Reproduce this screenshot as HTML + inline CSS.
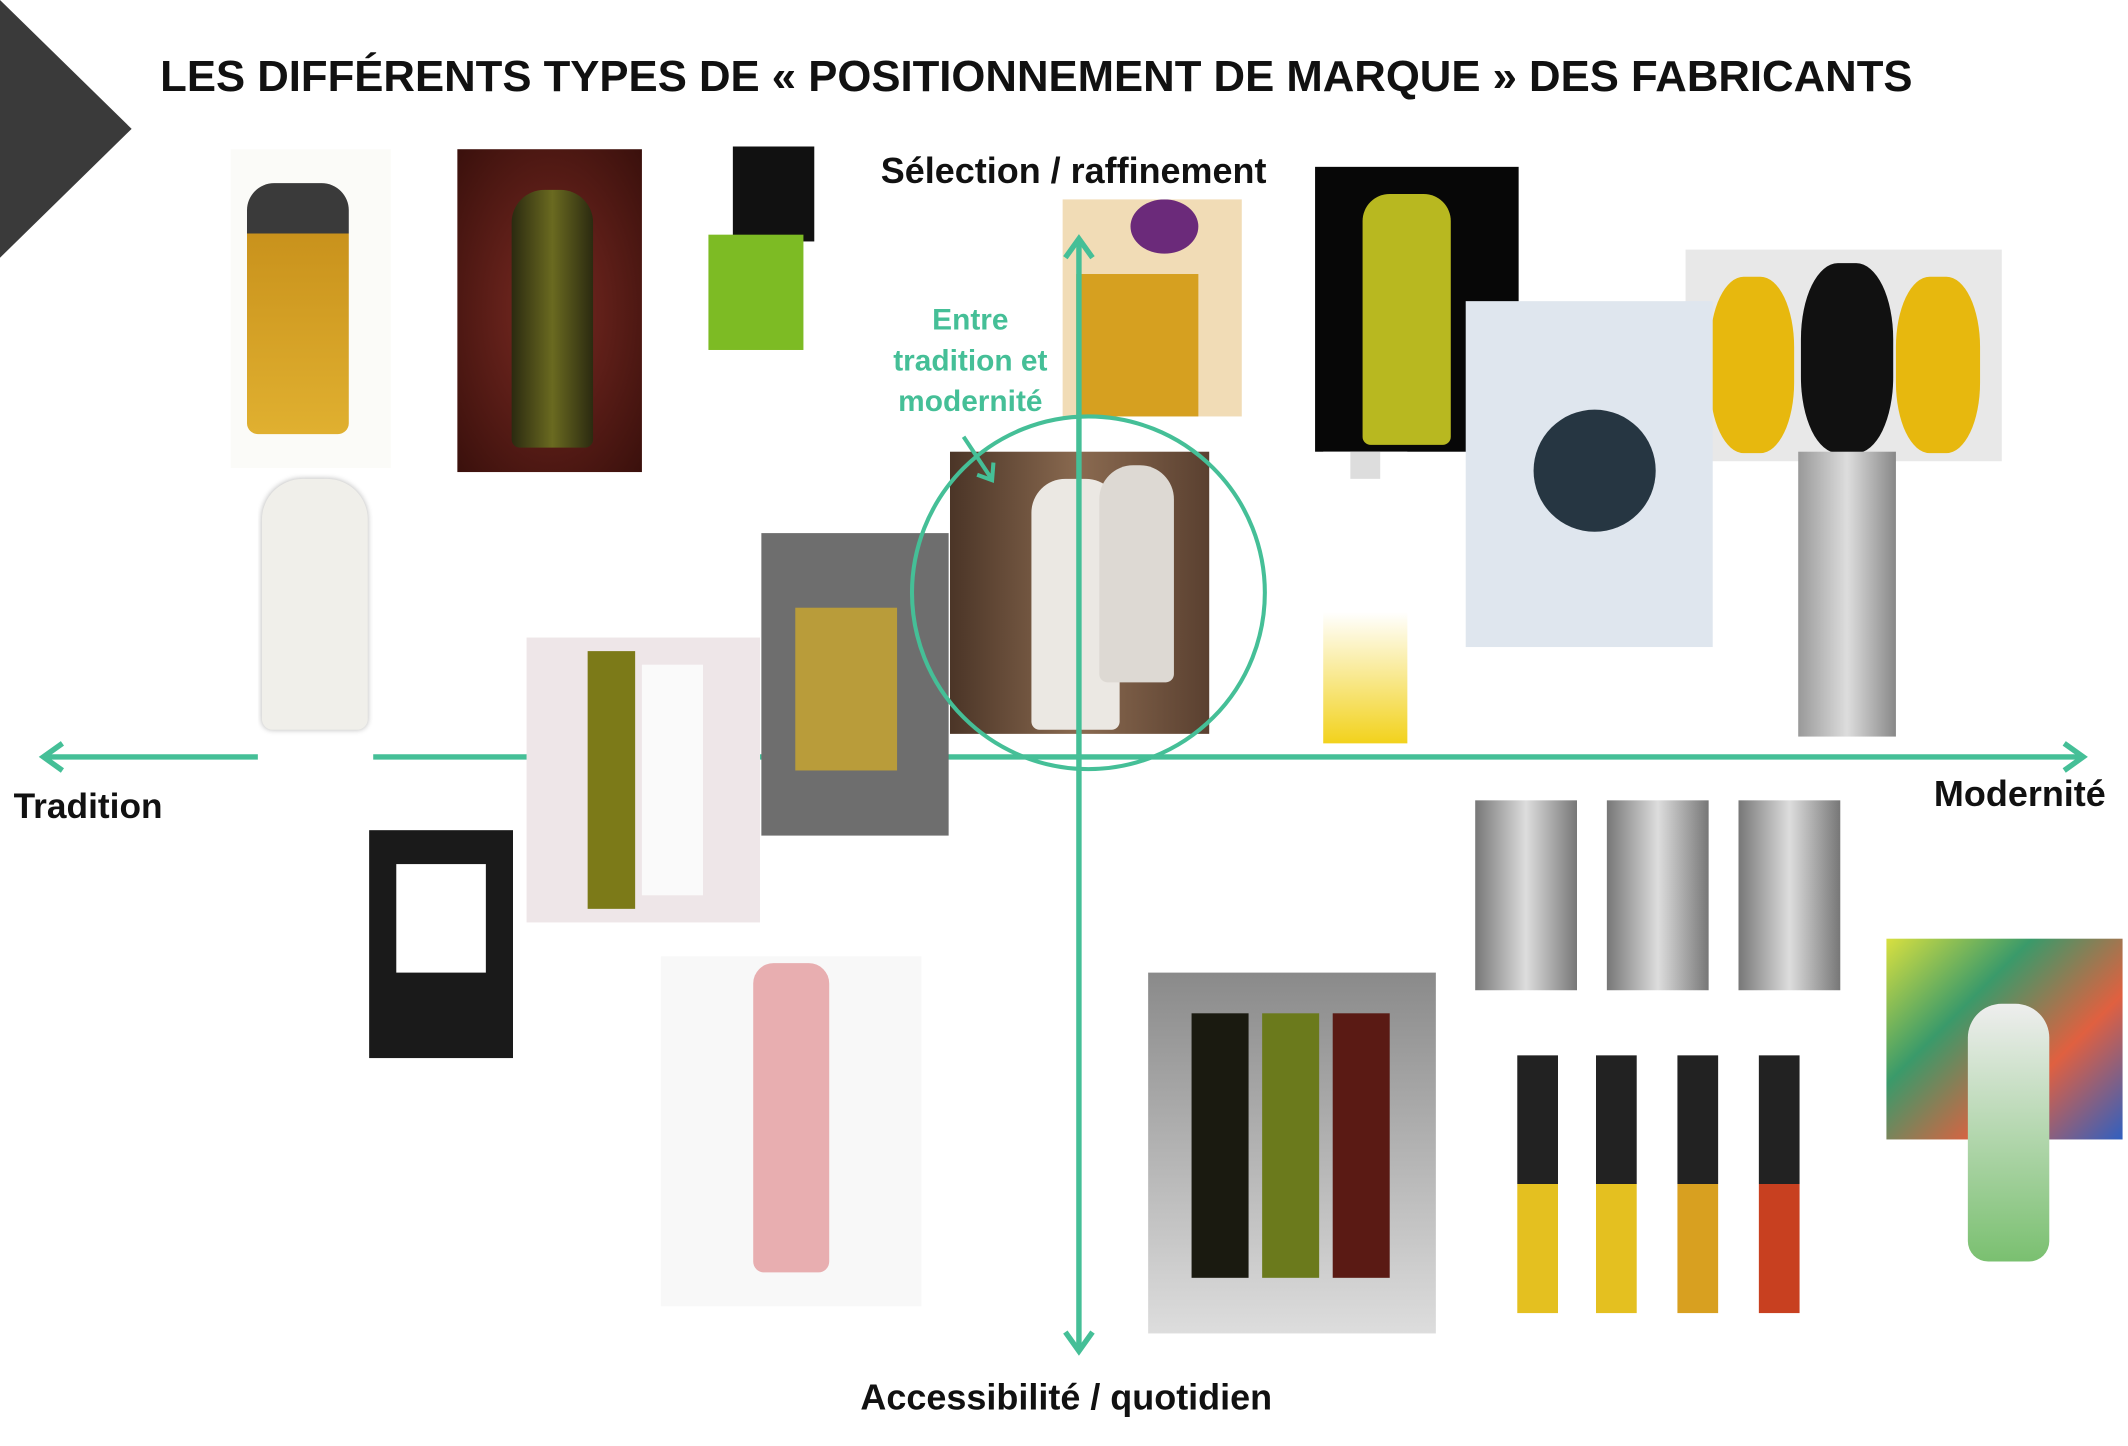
<!DOCTYPE html>
<html><head><meta charset="utf-8"><style>
html,body{margin:0;padding:0;background:#fff;overflow:hidden}
#w{position:absolute;left:0;top:0;width:1568px;height:1066px;transform:scale(1.35714,1.3565);transform-origin:0 0;font-family:"Liberation Sans",sans-serif}
.i{position:absolute;overflow:hidden}
.t{position:absolute;font-weight:bold;white-space:nowrap;color:#111}
.b{position:absolute}
</style></head><body><div id="w">
<svg class="b" style="left:0;top:0" width="1568" height="1066">
<polygon points="0,0 97,95 0,190" fill="#3a3a3a"/>
<line x1="32" y1="558" x2="1535" y2="558" stroke="#45bf97" stroke-width="4"/>
<polyline points="46,548 32,558 46,568" fill="none" stroke="#45bf97" stroke-width="4"/>
<polyline points="1521,548 1535,558 1521,568" fill="none" stroke="#45bf97" stroke-width="4"/>
</svg>
<div class="t" style="left:118px;top:38px;font-size:32.2px">LES DIFFÉRENTS TYPES DE « POSITIONNEMENT DE MARQUE » DES FABRICANTS</div>
<div class="t" style="left:649px;top:111px;font-size:26.5px">Sélection / raffinement</div>
<div class="t" style="left:10px;top:579px;font-size:26px">Tradition</div>
<div class="t" style="left:1425px;top:570px;font-size:26.5px">Modernité</div>
<div class="t" style="left:634px;top:1015px;font-size:26.5px">Accessibilité / quotidien</div>
<div class="t" style="left:630px;top:221px;width:170px;text-align:center;font-size:22px;line-height:30px;color:#45bf97">Entre<br>tradition et<br>modernité</div>

<!-- images -->
<div class="i" style="left:170px;top:110px;width:118px;height:235px;background:#fbfbf8"><div class="b" style="left:12px;top:25px;width:75px;height:185px;border-radius:20px 20px 8px 8px;background:linear-gradient(#3a3a3a 0 20%,#c9921c 20%,#e0b030)"></div></div>
<div class="i" style="left:337px;top:110px;width:136px;height:238px;background:radial-gradient(#7a2a22,#3a100c)"><div class="b" style="left:40px;top:30px;width:60px;height:190px;border-radius:24px 24px 6px 6px;background:linear-gradient(90deg,#2b2a10,#6a6a20,#2b2a10)"></div></div>
<div class="i" style="left:520px;top:108px;width:115px;height:152px;background:#fff"><div class="b" style="left:20px;top:0;width:60px;height:70px;background:#111"></div><div class="b" style="left:2px;top:65px;width:70px;height:85px;background:#7dbb24"></div></div>
<div class="i" style="left:783px;top:147px;width:132px;height:160px;background:#f1dcb6"><div class="b" style="left:50px;top:0;width:50px;height:40px;border-radius:50%;background:#6b2a7a"></div><div class="b" style="left:10px;top:55px;width:90px;height:105px;background:#d6a020"></div></div>
<div class="i" style="left:969px;top:123px;width:150px;height:210px;background:#070707"><div class="b" style="left:35px;top:20px;width:65px;height:185px;border-radius:20px 20px 6px 6px;background:#b8b820"></div></div>
<div class="i" style="left:1242px;top:184px;width:233px;height:156px;background:#e8e8e8"><div class="b" style="left:18px;top:20px;width:62px;height:130px;border-radius:40%;background:#e7b80e"></div><div class="b" style="left:85px;top:10px;width:68px;height:140px;border-radius:40%;background:#111"></div><div class="b" style="left:155px;top:20px;width:62px;height:130px;border-radius:40%;background:#e7b80e"></div></div>
<div class="i" style="left:1080px;top:222px;width:182px;height:255px;background:#dfe6ee"><div class="b" style="left:50px;top:80px;width:90px;height:90px;border-radius:50%;background:#263642"></div></div>
<div class="i" style="left:190px;top:345px;width:85px;height:220px;background:#fff"><div class="b" style="left:3px;top:8px;width:78px;height:185px;border-radius:30px 30px 8px 8px;background:#f0efea;box-shadow:0 0 4px #bbb"></div></div>
<div class="i" style="left:388px;top:470px;width:172px;height:210px;background:#eee6e8"><div class="b" style="left:45px;top:10px;width:35px;height:190px;background:#7c7a18"></div><div class="b" style="left:85px;top:20px;width:45px;height:170px;background:#fafafa"></div></div>
<div class="i" style="left:561px;top:393px;width:138px;height:223px;background:#6e6e6e"><div class="b" style="left:25px;top:55px;width:75px;height:120px;background:#b99c3a"></div></div>
<div class="i" style="left:700px;top:333px;width:191px;height:208px;background:linear-gradient(90deg,#4b3527,#8a6a50,#5a4030)"><div class="b" style="left:60px;top:20px;width:65px;height:185px;border-radius:25px 25px 6px 6px;background:#ebe8e3"></div><div class="b" style="left:110px;top:10px;width:55px;height:160px;border-radius:25px 25px 6px 6px;background:#ddd9d3"></div></div>
<div class="i" style="left:975px;top:333px;width:62px;height:215px;background:linear-gradient(#fff 55%,#f2d21c)"><div class="b" style="left:20px;top:0;width:22px;height:20px;background:#ddd"></div></div>
<div class="i" style="left:1325px;top:333px;width:72px;height:210px;background:linear-gradient(90deg,#999,#ddd,#888)"></div>
<div class="i" style="left:272px;top:612px;width:106px;height:168px;background:#1a1a1a"><div class="b" style="left:20px;top:25px;width:66px;height:80px;background:#fff"></div></div>
<div class="i" style="left:487px;top:705px;width:192px;height:258px;background:#f8f8f8"><div class="b" style="left:68px;top:5px;width:56px;height:228px;border-radius:15px 15px 8px 8px;background:#e8aeb0"></div></div>
<div class="i" style="left:846px;top:717px;width:212px;height:266px;background:linear-gradient(#8a8a8a,#ddd)"><div class="b" style="left:32px;top:30px;width:42px;height:195px;background:#1a1a10"></div><div class="b" style="left:84px;top:30px;width:42px;height:195px;background:#6b7a1c"></div><div class="b" style="left:136px;top:30px;width:42px;height:195px;background:#5a1a14"></div></div>
<div class="i" style="left:1085px;top:585px;width:275px;height:150px;background:#fff"><div class="b" style="left:2px;top:5px;width:75px;height:140px;background:linear-gradient(90deg,#777,#ddd,#777)"></div><div class="b" style="left:99px;top:5px;width:75px;height:140px;background:linear-gradient(90deg,#777,#ddd,#777)"></div><div class="b" style="left:196px;top:5px;width:75px;height:140px;background:linear-gradient(90deg,#777,#ddd,#777)"></div></div>
<div class="i" style="left:1110px;top:768px;width:220px;height:205px;background:#fff"><div class="b" style="left:8px;top:10px;width:30px;height:190px;background:linear-gradient(#222 50%,#e4c020 50%)"></div><div class="b" style="left:66px;top:10px;width:30px;height:190px;background:linear-gradient(#222 50%,#e4c020 50%)"></div><div class="b" style="left:126px;top:10px;width:30px;height:190px;background:linear-gradient(#222 50%,#d8a020 50%)"></div><div class="b" style="left:186px;top:10px;width:30px;height:190px;background:linear-gradient(#222 50%,#c84020 50%)"></div></div>
<div class="i" style="left:1390px;top:692px;width:174px;height:148px;background:linear-gradient(135deg,#d8e040,#3a9a6a,#e06040,#3060c0)"></div>
<div class="i" style="left:1450px;top:740px;width:60px;height:190px;border-radius:25px 25px 15px 15px;background:linear-gradient(#eee,#7ac070)"></div>

<svg class="b" style="left:0;top:0" width="1568" height="1066">
<circle cx="802" cy="437" r="130" fill="none" stroke="#45bf97" stroke-width="3"/>
<line x1="795" y1="176" x2="795" y2="996" stroke="#45bf97" stroke-width="4"/>
<polyline points="785,190 795,176 805,190" fill="none" stroke="#45bf97" stroke-width="4"/>
<polyline points="785,982 795,996 805,982" fill="none" stroke="#45bf97" stroke-width="4"/>
<line x1="710" y1="322" x2="730" y2="352" stroke="#45bf97" stroke-width="3"/>
<polyline points="720,350 731,354 732,341" fill="none" stroke="#45bf97" stroke-width="3"/>
</svg>
</div></body></html>
